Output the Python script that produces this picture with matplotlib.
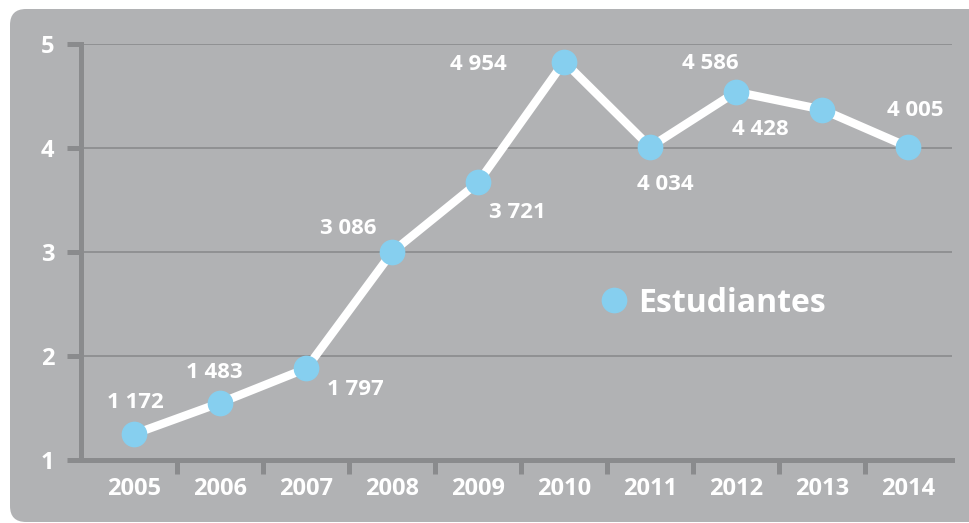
import matplotlib
matplotlib.use("Agg")
import matplotlib.pyplot as plt
from matplotlib.patches import FancyBboxPatch
from matplotlib.lines import Line2D

# data (thousands of students)
anios = ["2005", "2006", "2007", "2008", "2009", "2010", "2011", "2012", "2013", "2014"]
nivel = [1.25, 1.55, 1.88, 3.0, 3.67, 4.83, 4.01, 4.54, 4.37, 4.01]
etiquetas = ["1 172", "1 483", "1 797", "3 086", "3 721", "4 954", "4 034", "4 586", "4 428", "4 005"]
# label offsets in pixels from each point
desp = [(1, 31), (-6, 30), (49, -21), (-44, 23), (39, -30),
        (-86, -3), (15, -38), (-26, 28), (-62, -20), (7, 36)]

fondo = "#b1b2b4"
eje = "#8a8b8d"
azul = "#86cfef"
fuente = ["Open Sans", "DejaVu Sans"]

fig = plt.figure(figsize=(9.7, 5.23), dpi=100)
fig.patch.set_facecolor("white")
panel = FancyBboxPatch((10, 1), 990, 513, boxstyle="round,pad=0,rounding_size=16",
                       transform=None, facecolor=fondo, edgecolor="none", zorder=-10)
fig.patches.append(panel)

ax = fig.add_axes([81 / 970, 63 / 523, 871 / 970, 416 / 523])
ax.set_facecolor("none")
x = list(range(len(anios)))
ax.plot(x, nivel, color="white", lw=6, solid_capstyle="round", zorder=3)
ax.plot(x, nivel, ls="none", marker="o", ms=17.5, color=azul, zorder=4)

for xi, yi, t, (dx, dy) in zip(x, nivel, etiquetas, desp):
    ax.annotate(t, (xi, yi), xytext=(dx * 0.72, dy * 0.72), textcoords="offset points",
                ha="center", va="center", color="white", fontsize=16,
                family=fuente, fontweight="bold", zorder=5)

ax.set_xlim(-0.62, 9.51)
ax.set_ylim(1, 5)
ax.set_yticks([1, 2, 3, 4, 5])
ax.set_yticklabels(["1", "2", "3", "4", "5"], family=fuente, fontweight="bold")
ax.set_xticks(x)
ax.set_xticklabels(anios, family=fuente, fontweight="bold")
ax.set_xticks([i + 0.5 for i in range(len(anios) - 1)], minor=True)

ax.tick_params(axis="y", colors=eje, labelcolor="white", labelsize=17,
               length=10, width=3.6, pad=9)
ax.tick_params(axis="x", which="major", length=0, labelcolor="white", labelsize=17, pad=12)
ax.tick_params(axis="x", which="minor", colors=eje, length=10, width=3.6, direction="out")

for s in ["top", "right"]:
    ax.spines[s].set_visible(False)
for s in ["left", "bottom"]:
    ax.spines[s].set_color(eje)
    ax.spines[s].set_linewidth(3.6)
    ax.spines[s].set_capstyle("projecting")

ax.grid(axis="y", color=eje, lw=1.2)
ax.set_axisbelow(True)

h = Line2D([], [], ls="none", marker="o", ms=17.5, color=azul)
leg = ax.legend([h], ["Estudiantes"], loc="center left", bbox_to_anchor=(0.575, 0.377),
                frameon=False, borderpad=0, handlelength=1, handletextpad=0.25,
                prop={"family": fuente, "size": 23, "weight": "bold"})
for t in leg.get_texts():
    t.set_color("white")

fig.savefig("out.png", dpi=100)
